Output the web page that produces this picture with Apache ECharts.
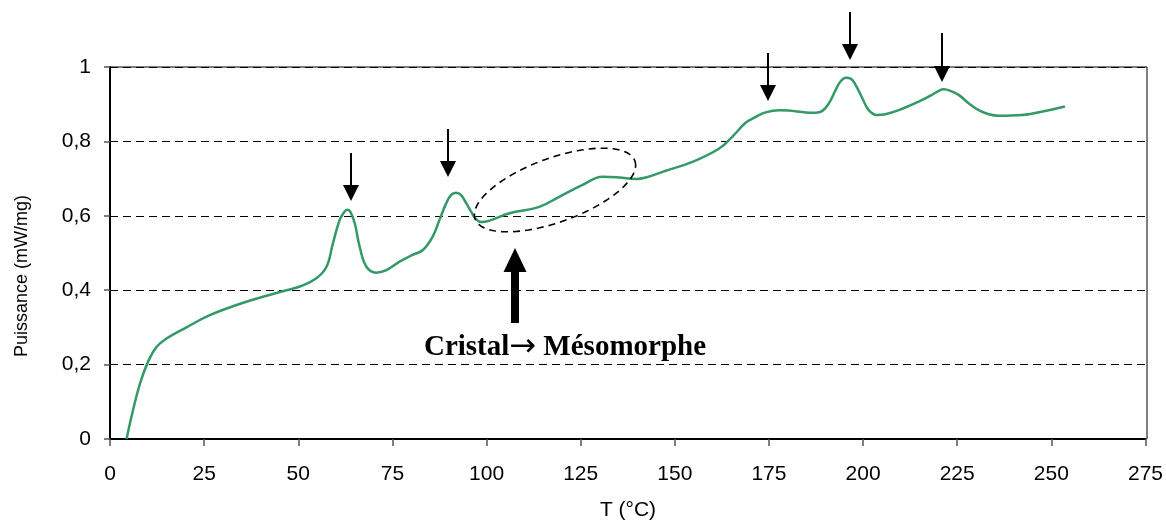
<!DOCTYPE html>
<html>
<head>
<meta charset="utf-8">
<script src="https://cdn.jsdelivr.net/npm/echarts@6/dist/echarts.min.js"></script>
<style>
html,body{margin:0;padding:0;background:#fff;}
#chart{width:1166px;height:522px;}
</style>
</head>
<body>
<div id="chart"></div>
<script>
// Data
var temperature = [4.4, 5.7, 8.0, 10.2, 12.4, 15.0, 20.3, 26.5, 36.2, 46.9, 50.4, 54.8, 57.5, 59.2, 61.0, 62.3, 63.0, 63.8, 65.0, 66.3, 68.1, 70.7, 73.4, 76.9, 80.4, 83.1, 85.7, 87.5, 89.3, 90.6, 91.9, 93.2, 94.6, 95.9, 97.2, 98.6, 100.8, 106.1, 114.0, 119.3, 125.5, 130.8, 135.2, 139.7, 142.3, 147.6, 154.7, 161.8, 165.3, 168.8, 171.5, 174.1, 177.7, 180.2, 184.8, 187.4, 189.2, 190.9, 192.7, 194.0, 195.4, 196.7, 198.0, 199.8, 201.5, 203.7, 205.9, 209.5, 214.8, 218.3, 220.1, 221.4, 223.2, 225.4, 228.1, 230.7, 233.4, 236.0, 242.2, 249.3, 253.6];
var puissance = [0, 0.06, 0.15, 0.21, 0.248, 0.27, 0.30, 0.333, 0.369, 0.40, 0.41, 0.432, 0.463, 0.526, 0.589, 0.611, 0.616, 0.611, 0.580, 0.517, 0.463, 0.447, 0.454, 0.477, 0.495, 0.508, 0.544, 0.589, 0.634, 0.656, 0.662, 0.656, 0.634, 0.611, 0.591, 0.583, 0.587, 0.607, 0.624, 0.651, 0.683, 0.705, 0.703, 0.699, 0.703, 0.721, 0.745, 0.781, 0.813, 0.850, 0.866, 0.878, 0.884, 0.883, 0.878, 0.877, 0.882, 0.902, 0.938, 0.961, 0.971, 0.969, 0.952, 0.916, 0.884, 0.871, 0.873, 0.884, 0.907, 0.925, 0.936, 0.940, 0.936, 0.925, 0.902, 0.884, 0.873, 0.869, 0.871, 0.884, 0.894];
var xTicks = [0, 25, 50, 75, 100, 125, 150, 175, 200, 225, 250, 275];
var yTicks = [0, 0.2, 0.4, 0.6, 0.8, 1];
var xTitle = 'T (°C)';
var yTitle = 'Puissance (mW/mg)';
var annotationLeft = 'Cristal';
var annotationArrow = '\u2192';
var annotationRight = ' Mésomorphe';

var seriesData = temperature.map(function (t, i) { return [t, puissance[i]]; });

var chart = echarts.init(document.getElementById('chart'), null, {renderer: 'canvas'});

// decorative annotations (pixel space)
var arrows = [[351,153,201],[448,129,177],[768,53,101],[850,12,60],[942,33,82]];
var graphics = [];
arrows.forEach(function (a) {
  graphics.push({type:'line', shape:{x1:a[0], y1:a[1], x2:a[0], y2:a[2]-12}, style:{stroke:'#000', lineWidth:2}, z:100});
  graphics.push({type:'polygon', shape:{points:[[a[0]-8,a[2]-16],[a[0]+8,a[2]-16],[a[0],a[2]]]}, style:{fill:'#000'}, z:100});
});
// big up arrow
graphics.push({type:'rect', shape:{x:511, y:268, width:8, height:55}, style:{fill:'#000'}, z:100});
graphics.push({type:'polygon', shape:{points:[[503.5,272],[526.5,272],[515,248]]}, style:{fill:'#000'}, z:100});
// dashed ellipse
(function(){
  var cx=555, cy=190, ra=85, rb=32, th=-20*Math.PI/180, pts=[];
  for (var k=0;k<120;k++){
    var u=k/120*2*Math.PI;
    var ex=ra*Math.cos(u), ey=rb*Math.sin(u);
    pts.push([cx+ex*Math.cos(th)-ey*Math.sin(th), cy+ex*Math.sin(th)+ey*Math.cos(th)]);
  }
  graphics.push({type:'polygon', shape:{points:pts}, style:{fill:'none', stroke:'#000', lineWidth:1.6, lineDash:[7,5]}, z:100});
})();
graphics.push({type:'text', x:565, y:348, style:{
  text:'{a|' + annotationLeft + '}{b|' + annotationArrow + '}{a|' + annotationRight + '}',
  rich:{
    a:{font:'bold 29px "Liberation Serif", "Times New Roman", serif', fill:'#000'},
    b:{font:'32px "DejaVu Sans", sans-serif', fill:'#000'}
  },
  textAlign:'center', textVerticalAlign:'middle'}, z:100});
graphics.push({type:'text', x:22, y:276, rotation:Math.PI/2, style:{text:yTitle, font:'18px "Liberation Sans", Arial, sans-serif', fill:'#000', textAlign:'center', textVerticalAlign:'middle'}, z:100});
graphics.push({type:'text', x:628, y:510, style:{text:xTitle, font:'21px "Liberation Sans", Arial, sans-serif', fill:'#000', textAlign:'center', textVerticalAlign:'middle'}, z:100});
// top/right border
graphics.push({type:'polyline', shape:{points:[[110,67],[1147,67],[1147,439]]}, style:{stroke:'#000', lineWidth:1, fill:'none'}, z:50});

chart.setOption({
  animation: false,
  backgroundColor: '#fff',
  grid: {left:110, right:19, top:67, bottom:83, containLabel:false},
  xAxis: {
    type:'value', min:xTicks[0], max:xTicks[xTicks.length-1], interval:25,
    axisLine:{show:true, onZero:false, lineStyle:{color:'#000', width:2}},
    axisTick:{show:true, length:7, lineStyle:{color:'#555', width:1.5}},
    axisLabel:{margin:25, color:'#000', fontSize:21, fontFamily:'Liberation Sans'},
    splitLine:{show:false}
  },
  yAxis: {
    type:'value', min:yTicks[0], max:yTicks[yTicks.length-1], interval:0.2,
    axisLine:{show:true, onZero:false, lineStyle:{color:'#000', width:2}},
    axisTick:{show:true, length:6, lineStyle:{color:'#555', width:1.5}},
    axisLabel:{margin:19, color:'#000', fontSize:21, fontFamily:'Liberation Sans',
      formatter:function(v){ return (Math.round(v*10)/10).toString().replace('.', ','); }},
    splitLine:{show:true, lineStyle:{color:'#000', width:1, type:[8,5]}}
  },
  series: [{
    type:'line', data:seriesData, showSymbol:false, smooth:0.4,
    lineStyle:{color:'#339966', width:2.5}, z:10
  }],
  graphic: graphics
});
</script>
</body>
</html>
